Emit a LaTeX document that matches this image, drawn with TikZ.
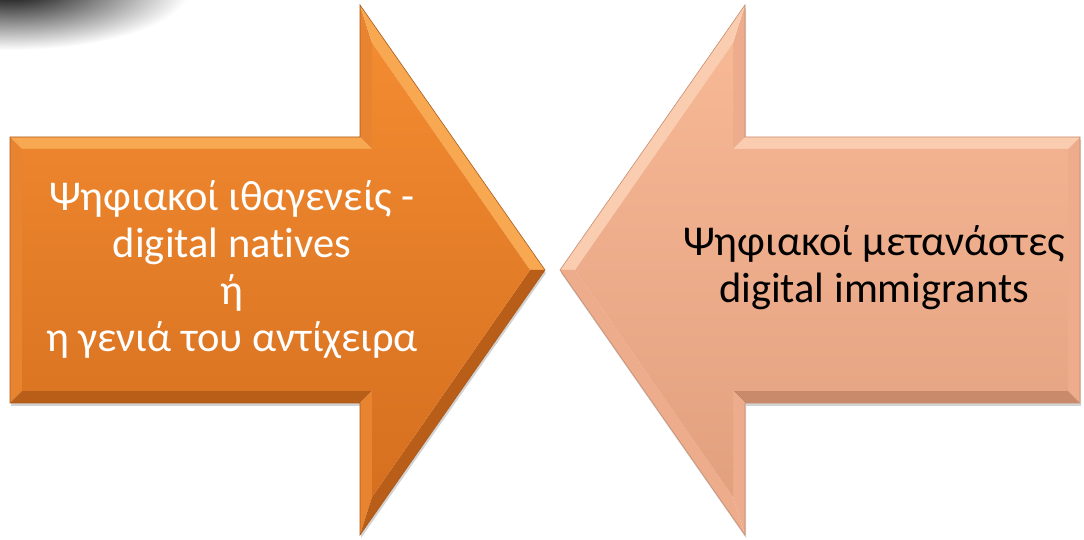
\documentclass[tikz,border=0pt]{standalone}
\usepackage{fontspec}
\setmainfont[Ligatures=NoCommon]{Carlito}
\usetikzlibrary{shadows}
\definecolor{oTop}{HTML}{F28B30}
\definecolor{oBot}{HTML}{D66F1F}
\definecolor{oLight}{HTML}{F7A850}
\definecolor{oMid}{HTML}{E88430}
\definecolor{oDark}{HTML}{B85E18}
\definecolor{pTop}{HTML}{F7B896}
\definecolor{pBot}{HTML}{E2A07F}
\definecolor{pLight}{HTML}{FBCDB0}
\definecolor{pMid}{HTML}{EDAD8C}
\definecolor{pDark}{HTML}{C98A6C}
\tikzset{
  arrowshadow/.style={fill=white, drop shadow={shadow xshift=1pt, shadow yshift=-3pt, opacity=0.35}},
  label/.style={align=center, font=\fontsize{42.5}{47}\selectfont}
}
\begin{document}
\begin{tikzpicture}[x=1pt,y=1pt]
\useasboundingbox (0,0) rectangle (1084,540);
\fill[white] (0,0) rectangle (1084,540);
% dark shadow at top-left
\begin{scope}
\clip (0,0) rectangle (1084,540);
\shade[inner color=black, outer color=white] (10,552) ellipse [x radius=180, y radius=62];
\end{scope}

% ---------- left arrow ----------
\path[arrowshadow] (10,137) -- (10,403) -- (360,403) -- (360,535) -- (545,270) -- (360,5) -- (360,137) -- cycle;
\fill[oLight] (10,403) -- (360,403) -- (372,391) -- (22,391) -- cycle;
\fill[oMid] (10,137) -- (10,403) -- (22,391) -- (22,149) -- cycle;
\fill[oDark] (10,137) -- (360,137) -- (372,149) -- (22,149) -- cycle;
\fill[oMid] (360,403) -- (360,535) -- (372,497) -- (372,391) -- cycle;
\fill[oMid] (360,5) -- (360,137) -- (372,149) -- (372,43) -- cycle;
\fill[oLight] (360,535) -- (545,270) -- (530,270) -- (372,497) -- cycle;
\fill[oDark] (545,270) -- (360,5) -- (372,43) -- (530,270) -- cycle;
\shade[top color=oTop, bottom color=oBot] (22,149) -- (22,391) -- (372,391) -- (372,497) -- (530,270) -- (372,43) -- (372,149) -- cycle;
\draw[oBot!80!black, line width=0.6pt] (10,137) -- (10,403) -- (360,403) -- (360,535) -- (545,270) -- (360,5) -- (360,137) -- cycle;

% ---------- right arrow ----------
\path[arrowshadow] (1080,137) -- (1080,403) -- (745,403) -- (745,535) -- (560,270) -- (745,5) -- (745,137) -- cycle;
\fill[pLight] (1080,403) -- (745,403) -- (733,391) -- (1068,391) -- cycle;
\fill[pMid] (1080,137) -- (1080,403) -- (1068,391) -- (1068,149) -- cycle;
\fill[pDark] (1080,137) -- (745,137) -- (733,149) -- (1068,149) -- cycle;
\fill[pMid] (745,403) -- (745,535) -- (733,497) -- (733,391) -- cycle;
\fill[pMid] (745,5) -- (745,137) -- (733,149) -- (733,43) -- cycle;
\fill[pLight] (745,535) -- (560,270) -- (575,270) -- (733,497) -- cycle;
\fill[pMid] (560,270) -- (745,5) -- (733,43) -- (575,270) -- cycle;
\shade[top color=pTop, bottom color=pBot] (1068,149) -- (1068,391) -- (733,391) -- (733,497) -- (575,270) -- (733,43) -- (733,149) -- cycle;
\draw[pDark, line width=0.6pt] (1080,137) -- (1080,403) -- (745,403) -- (745,535) -- (560,270) -- (745,5) -- (745,137) -- cycle;

% ---------- texts ----------
\node[label, text=white] (natives) at (232,270) {Ψηφιακοί ιθαγενείς -\\digital natives\\ή\\η γενιά του αντίχειρα};
\node[label, text=black] (immigrants) at (874,272) {Ψηφιακοί μετανάστες\\digital immigrants};
\end{tikzpicture}
\end{document}
